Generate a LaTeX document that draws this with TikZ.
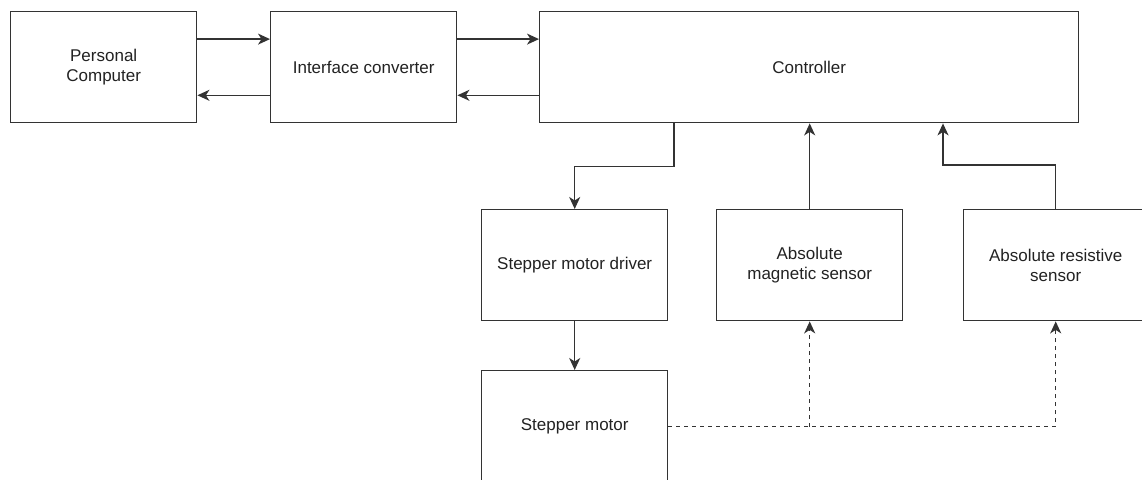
\documentclass[tikz,border=0pt]{standalone}
\usepackage{fontspec}
\setmainfont{Liberation Sans}
\usetikzlibrary{arrows.meta,calc}
\definecolor{edge}{HTML}{333333}
\definecolor{txt}{HTML}{222222}
\tikzset{
  blk/.style={draw=edge, line width=1.4pt, fill=white, anchor=north west, inner sep=0pt,
    align=center, text=txt, font=\fontsize{17}{20}\selectfont},
  arr/.style={draw=edge, line width=1.4pt, -{Stealth[length=12pt,width=11pt,inset=3.5pt]}},
  darr/.style={arr, dash pattern=on 4pt off 4pt},
}
\begin{document}
\begin{tikzpicture}[x=1pt,y=-1pt]
\useasboundingbox (0,0) rectangle (1142,479);
\clip (0,0) rectangle (1142,479);
\node[blk, minimum width=186pt, minimum height=111pt] (pc) at (10,11) {Personal\\Computer};
\node[blk, minimum width=186pt, minimum height=111pt] (ic) at (270,11) {Interface converter};
\node[blk, minimum width=539pt, minimum height=111pt] (ctrl) at (539,11) {Controller};
\node[blk, minimum width=186pt, minimum height=111pt] (drv) at (481,209) {Stepper motor driver};
\node[blk, minimum width=186pt, minimum height=111pt] (mag) at (716,209) {Absolute\\magnetic sensor};
\node[blk, minimum width=184pt, minimum height=111pt] (res) at (963,209) {Absolute resistive\\sensor};
\node[blk, minimum width=186pt, minimum height=112pt] (mot) at (481,370) {Stepper motor};

\draw[arr] ($(pc.north east)!0.25!(pc.south east)$) -- ($(ic.north west)!0.25!(ic.south west)$);
\draw[arr] ($(ic.north west)!0.75!(ic.south west)$) -- ($(pc.north east)!0.75!(pc.south east)$);
\draw[arr] ($(ic.north east)!0.25!(ic.south east)$) -- ($(ctrl.north west)!0.25!(ctrl.south west)$);
\draw[arr] ($(ctrl.north west)!0.75!(ctrl.south west)$) -- ($(ic.north east)!0.75!(ic.south east)$);

\draw[arr] ([xshift=135pt]ctrl.south west) -- ++(0,43) -| (drv.north);
\draw[arr] (mag.north) -- (mag.north |- ctrl.south);
\draw[arr] (res.north) -- ++(0,-44) -| ([xshift=404pt]ctrl.south west);
\draw[arr] (drv.south) -- (mot.north);

\coordinate (br) at (mag.south |- mot.east);
\draw[darr] (mot.east) -| (res.south);
\draw[darr] (br) -- (mag.south);
\end{tikzpicture}
\end{document}
